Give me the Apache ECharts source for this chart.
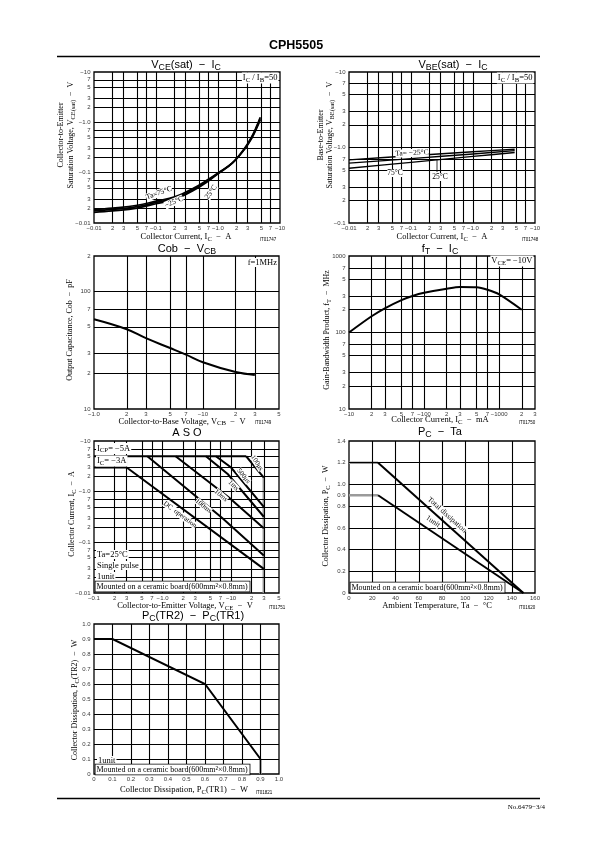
<!DOCTYPE html>
<html><head><meta charset="utf-8">
<script src="https://cdn.jsdelivr.net/npm/echarts@6/dist/echarts.min.js"></script>
<style>html,body{margin:0;padding:0;background:#fff}#c{width:595px;height:842px}</style>
</head><body><div id="c"></div><script>
// ---------------- DATA ----------------
// Chart 1: VCE(sat) - IC  (IC/IB=50)
const c1Ic     = [0.01, 0.02, 0.05, 0.1, 0.2, 0.4, 0.7, 1.0, 1.7, 2.7, 3.5, 4.2, 4.8];
const c1Vce75  = [0.0186, 0.0198, 0.0225, 0.0272, 0.0330, 0.0490, 0.0740, 0.099, 0.156, 0.296, 0.48, 0.76, 1.12];
const c1Vce25  = [0.0174, 0.0186, 0.0211, 0.0256, 0.0312, 0.0465, 0.0710, 0.097, 0.155, 0.300, 0.50, 0.80, 1.20];
const c1VceM25 = [0.0163, 0.0174, 0.0198, 0.0241, 0.0294, 0.0440, 0.0680, 0.095, 0.155, 0.310, 0.52, 0.84, 1.26];
const logTicksA  = [0.01,0.02,0.03,0.05,0.07,0.1,0.2,0.3,0.5,0.7,1,2,3,5,7,10];
const logLabelsA = ['−0.01','2','3','5','7','−0.1','2','3','5','7','−1.0','2','3','5','7','−10'];
// Chart 2: VBE(sat) - IC
const c2Ic     = [0.01, 0.1, 1.0, 4.7];
const c2VbeM25 = [0.686, 0.776, 0.878, 0.95];
const c2Vbe25  = [0.62, 0.713, 0.822, 0.91];
const c2Vbe75  = [0.53, 0.636, 0.762, 0.86];
const c2YTicks  = [0.1,0.2,0.3,0.5,0.7,1,2,3,5,7,10];
const c2YLabels = ['−0.1','2','3','5','7','−1.0','2','3','5','7','−10'];
// Chart 3: Cob - VCB
const c3Vcb = [1, 2, 3, 5, 7, 10, 20, 30];
const c3Cob = [58, 47.7, 40, 33, 29, 25, 20.6, 19.5];
const c3XTicks  = [1,2,3,5,7,10,20,30,50];
const c3XLabels = ['−1.0','2','3','5','7','−10','2','3','5'];
const c3YTicks  = [10,20,30,50,70,100,200];
const c3YLabels = ['10','2','3','5','7','100','2'];
// Chart 4: fT - IC
const c4Ic = [10, 20, 30, 50, 70, 100, 200, 300, 500, 700, 1000, 2000];
const c4Ft = [100, 163, 207, 265, 300, 330, 372, 393, 390, 362, 315, 198];
const c4XTicks  = [10,20,30,50,70,100,200,300,500,700,1000,2000,3000];
const c4XLabels = ['−10','2','3','5','7','−100','2','3','5','7','−1000','2','3'];
const c4YTicks  = [10,20,30,50,70,100,200,300,500,700,1000];
const c4YLabels = ['10','2','3','5','7','100','2','3','5','7','1000'];
// Chart 5: ASO  [VCE, IC]
const asoIcp   = [[0.1,5],[16.6,5]];
const asoIc    = [[0.1,3],[0.3,3]];
const aso100us = [[16.6,5],[30,1.9]];
const aso500us = [[6,5],[10,3],[30,0.5]];
const aso1ms   = [[4.3,5],[9,2.2],[30,0.32]];
const aso10ms  = [[1.55,5],[9.5,0.75],[30,0.19]];
const aso100ms = [[0.6,5],[7.5,0.3],[30,0.055]];
const asoDC    = [[0.3,3],[30,0.03]];
const asoVceo  = [[30,1.9],[30,0.01]];
const c5XTicks  = [0.1,0.2,0.3,0.5,0.7,1,2,3,5,7,10,20,30,50];
const c5XLabels = ['−0.1','2','3','5','7','−1.0','2','3','5','7','−10','2','3','5'];
// Chart 6: PC - Ta
const c6Ta    = [0, 25, 150];
const c6Total = [1.2, 1.2, 0];
const c6Unit  = [0.9, 0.9, 0];
const c6XTicks  = [0,20,40,60,80,100,120,140,160];
const c6XLabels = ['0','20','40','60','80','100','120','140','160'];
const c6YTicks  = [0,0.2,0.4,0.6,0.8,0.9,1.0,1.2,1.4];
const c6YLabels = ['0','0.2','0.4','0.6','0.8','0.9','1.0','1.2','1.4'];
// Chart 7: PC(TR2) - PC(TR1)
const c7Tr1 = [0, 0.1, 0.6, 0.9, 0.9];
const c7Tr2 = [0.9, 0.9, 0.6, 0.1, 0];
const c7Ticks  = [0,0.1,0.2,0.3,0.4,0.5,0.6,0.7,0.8,0.9,1.0];
const c7Labels = ['0','0.1','0.2','0.3','0.4','0.5','0.6','0.7','0.8','0.9','1.0'];

// ---------------- BUILD ----------------
const SANS = '"Liberation Sans", Arial, sans-serif';
const SERIF = '"Liberation Serif", "Times New Roman", serif';
const grids = [
  {left:94, top:72, width:186, height:151},
  {left:349, top:72, width:186, height:151},
  {left:94, top:256, width:185, height:153},
  {left:349, top:256, width:186, height:153},
  {left:94, top:441, width:185, height:152},
  {left:349, top:441, width:186, height:152},
  {left:94, top:624, width:185, height:150}
].map(g => Object.assign({show:true, borderColor:'#000', borderWidth:1.3, backgroundColor:'transparent'}, g));
const ranges = [
  ['log',0.01,10,'log',0.01,10],
  ['log',0.01,10,'log',0.1,10],
  ['log',1,50,'log',10,200],
  ['log',10,3000,'log',10,1000],
  ['log',0.1,50,'log',0.01,10],
  ['value',0,160,'value',0,1.4],
  ['value',0,1,'value',0,1]
];
const xAxes = [], yAxes = [], series = [], graphics = [];
ranges.forEach((r,i) => {
  xAxes.push({gridIndex:i, type:r[0], logBase:10, min:r[1], max:r[2], show:false});
  yAxes.push({gridIndex:i, type:r[3], logBase:10, min:r[4], max:r[5], show:false});
});
function inner(t){ return t.slice(1, t.length-1); }
function gridLines(i, xs, ys) {
  const r = ranges[i];
  series.push({type:'line', xAxisIndex:i, yAxisIndex:i, data:[[r[1],r[4]]], symbol:'none', silent:true, z:1,
    lineStyle:{width:0},
    markLine:{silent:true, symbol:['none','none'], animation:false, label:{show:false},
      lineStyle:{color:'#000', width:1.1, type:'solid'},
      data: xs.map(v=>({xAxis:v})).concat(ys.map(v=>({yAxis:v})))}});
}
function tickLabels(i, xt, xl, yt, yl) {
  const r = ranges[i];
  series.push({type:'scatter', xAxisIndex:i, yAxisIndex:i, silent:true, clip:false, symbolSize:1, z:5,
    itemStyle:{color:'rgba(0,0,0,0)'},
    data: xt.map((v,k)=>({value:[v, r[4]], name:xl[k]})),
    label:{show:true, position:'bottom', distance:2, formatter:'{b}', fontSize:6, fontFamily:SANS, color:'#000'}});
  series.push({type:'scatter', xAxisIndex:i, yAxisIndex:i, silent:true, clip:false, symbolSize:1, z:5,
    itemStyle:{color:'rgba(0,0,0,0)'},
    data: yt.map((v,k)=>({value:[r[1], v], name:yl[k]})),
    label:{show:true, position:'left', distance:3, formatter:'{b}', fontSize:6, fontFamily:SANS, color:'#000'}});
}
function curve(i, pts, o) {
  o = o || {};
  series.push({type:'line', xAxisIndex:i, yAxisIndex:i, data:pts, symbol:'none', smooth:o.smooth||false,
    silent:true, z:o.z||3, lineStyle:{color:o.color||'#000', width:o.w||2, cap:'butt', join:'miter'}});
}
function zip(xs, ys){ return xs.map((x,k)=>[x, ys[k]]); }

// chart 1
gridLines(0, inner(logTicksA), inner(logTicksA));
tickLabels(0, logTicksA, logLabelsA, logTicksA, logLabelsA);
curve(0, zip(c1Ic, c1Vce75), {smooth:0.4, w:1.7});
curve(0, zip(c1Ic, c1Vce25), {smooth:0.4, w:1.7});
curve(0, zip(c1Ic, c1VceM25), {smooth:0.4, w:1.7});
// chart 2
gridLines(1, inner(logTicksA), inner(c2YTicks));
tickLabels(1, logTicksA, logLabelsA, c2YTicks, c2YLabels);
curve(1, zip(c2Ic, c2VbeM25), {smooth:0.3, w:1.4});
curve(1, zip(c2Ic, c2Vbe25), {smooth:0.3, w:1.4});
curve(1, zip(c2Ic, c2Vbe75), {smooth:0.3, w:1.4});
// chart 3
gridLines(2, inner(c3XTicks), [20,30,50,70,100]);
tickLabels(2, c3XTicks, c3XLabels, c3YTicks, c3YLabels);
curve(2, zip(c3Vcb, c3Cob), {smooth:0.4});
// chart 4
gridLines(3, inner(c4XTicks), inner(c4YTicks));
tickLabels(3, c4XTicks, c4XLabels, c4YTicks, c4YLabels);
curve(3, zip(c4Ic, c4Ft), {smooth:0.3});
// chart 5
gridLines(4, inner(c5XTicks), inner(logTicksA));
tickLabels(4, c5XTicks, c5XLabels, logTicksA, logLabelsA);
curve(4, asoVceo, {color:'#9a9a9a', w:2.5});
[asoIcp, asoIc, aso100us, aso500us, aso1ms, aso10ms, aso100ms, asoDC].forEach(p => curve(4, p, {w:2}));
// chart 6
gridLines(5, inner(c6XTicks), [0.2,0.4,0.6,0.8,1.0,1.2]);
tickLabels(5, c6XTicks, c6XLabels, c6YTicks, c6YLabels);
curve(5, zip(c6Ta.slice(0,2), c6Total.slice(0,2)), {color:'#9a9a9a', w:2.5});
curve(5, zip(c6Ta.slice(0,2), c6Unit.slice(0,2)), {color:'#9a9a9a', w:2.5});
curve(5, zip(c6Ta.slice(1), c6Total.slice(1)), {w:2});
curve(5, zip(c6Ta.slice(1), c6Unit.slice(1)), {w:2});
// chart 7
gridLines(6, inner(c7Ticks), inner(c7Ticks));
tickLabels(6, c7Ticks, c7Labels, c7Ticks, c7Labels);
curve(6, zip(c7Tr1.slice(0,4), c7Tr2.slice(0,4)), {w:2});
curve(6, zip(c7Tr1.slice(3), c7Tr2.slice(3)), {color:'#9a9a9a', w:2.5});

// ---------------- TEXT ----------------
function R(fs, ff){ return {
  s:{fontSize:fs*0.8, fontFamily:ff, padding:[Math.round(fs*0.45),0,0,0]},
  n:{fontSize:fs, fontFamily:ff}
};}
function T(x, y, text, o) {
  o = o || {};
  const fs = o.fs || 8.5, ff = o.ff || SERIF;
  const st = {text:text, fill:'#000', fontSize:fs, fontFamily:ff, fontWeight:o.fw||'normal',
    align:o.align||'center', verticalAlign:o.va||'middle', rich:R(fs, ff)};
  if (o.bg) { st.backgroundColor = o.bg; st.padding = o.pad || [0,1]; }
  if (o.bc) { st.borderColor = o.bc; st.borderWidth = o.bw || 0.8; }
  graphics.push({type:'text', x:x, y:y, rotation:o.rot||0, z:100, silent:true, style:st});
}
function L(x1,y1,x2,y2,w){ graphics.push({type:'line', z:100, silent:true, shape:{x1,y1,x2,y2}, style:{stroke:'#000', lineWidth:w||1}}); }
const V = Math.PI/2;
const XN = 8.5, YN = 8;

// header / footer
T(296, 46, 'CPH5505', {ff:SANS, fs:12.5, fw:'bold'});
L(57, 56.5, 540, 56.5, 1.3);
L(57, 798.5, 540, 798.5, 1.3);
T(545, 807, 'No.6479−3/4', {fs:7, align:'right'});

// chart 1
T(186, 65, 'V{s|CE}(sat)  −  I{s|C}', {ff:SANS, fs:11});
T(278.5, 78, 'I{s|C} / I{s|B}=50', {fs:8.5, align:'right', bg:'#fff'});
T(186, 237, 'Collector Current, I{s|C}  −  A', {fs:XN});
T(268, 240, 'IT01747', {ff:SANS, fs:4.5});
T(61, 135, 'Collector-to-Emitter', {fs:YN, rot:V});
T(71, 135, 'Saturation Voltage, V{s|CE(sat)}  −  V', {fs:YN, rot:V});
T(159, 193, 'Ta=75°C', {fs:7.5, rot:0.35, bg:'#fff', pad:[0,0]});
T(174, 202, '−25°C', {fs:7.5, rot:0.4, bg:'#fff', pad:[0,0]});
T(211, 192, '25°C', {fs:7.5, rot:0.95, bg:'#fff', pad:[0,0]});
// chart 2
T(453, 65, 'V{s|BE}(sat)  −  I{s|C}', {ff:SANS, fs:11});
T(533.5, 78, 'I{s|C} / I{s|B}=50', {fs:8.5, align:'right', bg:'#fff'});
T(442, 237, 'Collector Current, I{s|C}  −  A', {fs:XN});
T(530, 240, 'IT01748', {ff:SANS, fs:4.5});
T(321, 135, 'Base-to-Emitter', {fs:YN, rot:V});
T(330, 135, 'Saturation Voltage, V{s|BE(sat)}  −  V', {fs:YN, rot:V});
T(412, 153, 'Ta= −25°C', {fs:7.5, rot:0.05, bg:'#fff', pad:[0,0]});
T(395, 173, '75°C', {fs:7.5, bg:'#fff', pad:[0,0]});
T(440, 177, '25°C', {fs:7.5, bg:'#fff', pad:[0,0]});
L(437, 159, 437, 172, 0.8);
// chart 3
T(187, 249, 'Cob  −  V{s|CB}', {ff:SANS, fs:11});
T(278, 262.5, 'f=1MHz', {fs:8.5, align:'right', bg:'#fff'});
T(182, 421.5, 'Collector-to-Base Voltage, V{s|CB}  −  V', {fs:XN});
T(263, 423, 'IT01749', {ff:SANS, fs:4.5});
T(70, 330, 'Output Capacitance, Cob  −  pF', {fs:YN, rot:V});
// chart 4
T(440, 249, 'f{s|T}  −  I{s|C}', {ff:SANS, fs:11});
T(533.5, 261, 'V{s|CE}= −10V', {fs:8.5, align:'right', bg:'#fff'});
T(440, 420, 'Collector Current, I{s|C}  −  mA', {fs:XN});
T(527, 422.5, 'IT01750', {ff:SANS, fs:4.5});
T(327, 330, 'Gain-Bandwidth Product, f{s|T}  −  MHz', {fs:YN, rot:V});
// chart 5
T(187, 433, 'A S O', {ff:SANS, fs:11});
T(96, 448.5, 'I{s|CP}= −5A', {fs:8.5, align:'left', bg:'#fff'});
T(96, 461, 'I{s|C}= −3A', {fs:8.5, align:'left', bg:'#fff'});
T(96, 554.5, 'Ta=25°C', {fs:8.5, align:'left', bg:'#fff'});
T(96, 565.5, 'Single pulse', {fs:8.5, align:'left', bg:'#fff'});
T(96, 576.5, '1unit', {fs:8.5, align:'left', bg:'#fff'});
T(95.5, 586.5, 'Mounted on a ceramic board(600mm²×0.8mm)', {fs:8, align:'left', bg:'#fff', pad:[1,2,1,1], bc:'#000', bw:0.8});
T(257, 463, '100μs', {fs:7, rot:-1.0, bg:'#fff', pad:[0,0]});
T(243.5, 476, '500μs', {fs:7, rot:-0.9, bg:'#fff', pad:[0,0]});
T(233.5, 485.5, '1ms', {fs:7, rot:-0.8, bg:'#fff', pad:[0,0]});
T(221, 495.5, '10ms', {fs:7, rot:-0.72, bg:'#fff', pad:[0,0]});
T(203.5, 506, '100ms', {fs:7, rot:-0.68, bg:'#fff', pad:[0,0]});
T(180, 514.5, 'DC  operation', {fs:7, rot:-0.64, bg:'#fff', pad:[0,0]});
T(185, 606, 'Collector-to-Emitter Voltage, V{s|CE}  −  V', {fs:XN});
T(277, 607.5, 'IT01751', {ff:SANS, fs:4.5});
T(72, 514, 'Collector Current, I{s|C}  −  A', {fs:YN, rot:V});
// chart 6
T(440, 432, 'P{s|C}  −  Ta', {ff:SANS, fs:11});
T(447, 515, 'Total dissipation', {fs:7.5, rot:-0.73, bg:'#fff', pad:[0,0]});
T(433, 521.5, '1unit', {fs:7.5, rot:-0.6, bg:'#fff', pad:[0,0]});
T(350.5, 587.5, 'Mounted on a ceramic board(600mm²×0.8mm)', {fs:8, align:'left', bg:'#fff', pad:[1,2,1,1], bc:'#000', bw:0.8});
T(437, 606, 'Ambient Temperature, Ta  −  °C', {fs:XN});
T(527, 608, 'IT01620', {ff:SANS, fs:4.5});
T(326, 516, 'Collector Dissipation, P{s|C}  −  W', {fs:YN, rot:V});
// chart 7
T(193, 616, 'P{s|C}(TR2)  −  P{s|C}(TR1)', {ff:SANS, fs:11});
T(97, 760.5, '1unit', {fs:8.5, align:'left', bg:'#fff'});
T(95.5, 769.5, 'Mounted on a ceramic board(600mm²×0.8mm)', {fs:8, align:'left', bg:'#fff', pad:[1,2,1,1], bc:'#000', bw:0.8});
T(184, 790, 'Collector Dissipation, P{s|C}(TR1)  −  W', {fs:XN});
T(264, 793, 'IT01821', {ff:SANS, fs:4.5});
T(75, 700, 'Collector Dissipation, P{s|C}(TR2)  −  W', {fs:YN, rot:V});

const chart = echarts.init(document.getElementById('c'), null, {renderer:'canvas'});
chart.setOption({animation:false, grid:grids, xAxis:xAxes, yAxis:yAxes, series:series, graphic:{elements:graphics}});
</script></body></html>
